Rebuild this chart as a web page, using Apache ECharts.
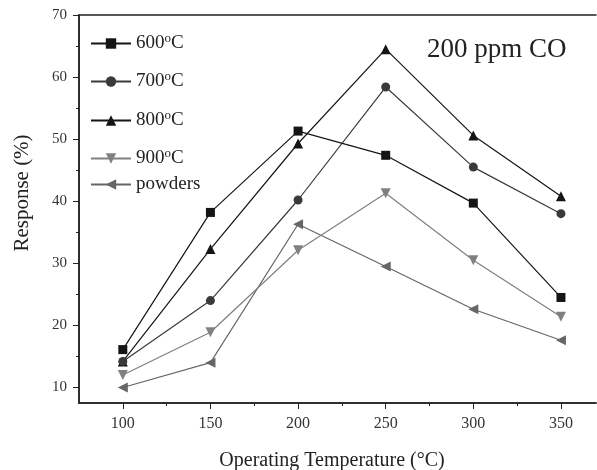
<!DOCTYPE html>
<html><head><meta charset="utf-8">
<script src="https://cdn.jsdelivr.net/npm/echarts@6/dist/echarts.min.js"></script>
<style>html,body{margin:0;padding:0;background:#fff}#c{width:597px;height:470px}</style>
</head><body><div id="c"></div>
<script>
const temps = [100, 150, 200, 250, 300, 350];
const s600 = [16.1, 38.2, 51.3, 47.4, 39.7, 24.5];
const s700 = [14.2, 24.0, 40.2, 58.4, 45.5, 38.0];
const s800 = [14.2, 32.3, 49.3, 64.5, 50.6, 40.8];
const s900 = [12.0, 18.9, 32.1, 41.3, 30.5, 21.4];
const powders = [10.0, 14.0, 36.3, 29.5, 22.6, 17.6];
const seriesNames = ['600oC', '700oC', '800oC', '900oC', 'powders'];
const yTicks = [10, 20, 30, 40, 50, 60, 70];
const yMinor = [15, 25, 35, 45, 55, 65];
const xTicks = [100, 150, 200, 250, 300, 350];
const xMinor = [125, 175, 225, 275, 325];

const F = 'Liberation Serif';
const pair = (arr) => temps.map((t, i) => [t, arr[i]]);
const vals = [s600, s700, s800, s900, powders];
const colors = ['#151515', '#3a3a3a', '#151515', '#808080', '#666666'];
const symbols = ['rect', 'circle', 'triangle', 'triangle', 'triangle'];
const rot = [0, 0, 0, 180, 90];
const sizes = [9, 9, 10, 10, 10];

const series = seriesNames.map((n, i) => ({
  name: n, type: 'line', data: pair(vals[i]), symbol: symbols[i], symbolSize: sizes[i],
  symbolRotate: rot[i], showSymbol: true,
  lineStyle: {color: colors[i], width: 1.2},
  itemStyle: {color: colors[i]}, z: 5 - i
}));

const legendTops = [27, 65, 104, 142, 170];
const legends = seriesNames.map((n, i) => ({
  data: [n], left: 85, top: legendTops[i], itemWidth: 40, itemHeight: 13, itemGap: 5,
  textStyle: {fontFamily: F, fontSize: 19, color: '#222',
    rich: {n: {fontFamily: F, fontSize: 19, color: '#222'}, s: {fontFamily: F, fontSize: 13, color: '#222', verticalAlign: 'top', padding:[0,0,10,0]}}},
  formatter: (name) => name === 'powders' ? '{n|powders}' : '{n|' + name.slice(0, 3) + '}{s|o}{n|C}'
}));

const axisCommon = {
  axisLine: {show: true, lineStyle: {color: '#222', width: 1.5}},
  splitLine: {show: false}
};

const chart = echarts.init(document.getElementById('c'));
chart.setOption({
  backgroundColor: '#fff',
  animation: false,
  grid: {left: 79, right: 1, top: 15, bottom: 67},
  legend: legends,
  xAxis: [
    Object.assign({type: 'value', min: 75, max: 370, position: 'bottom',
      axisTick: {show: true, customValues: xTicks, length: 6, lineStyle: {color: '#222'}},
      axisLabel: {customValues: xTicks, fontFamily: F, fontSize: 16, color: '#333', margin: 13}}, axisCommon),
    Object.assign({type: 'value', min: 75, max: 370, position: 'bottom',
      axisTick: {show: true, customValues: xMinor, length: 3, lineStyle: {color: '#222'}},
      axisLabel: {show: false}}, axisCommon),
    Object.assign({type: 'value', min: 75, max: 370, position: 'top',
      axisTick: {show: false}, axisLabel: {show: false}}, axisCommon)
  ],
  yAxis: [
    Object.assign({type: 'value', min: 7.5, max: 70,
      axisTick: {show: true, customValues: yTicks, length: 6, lineStyle: {color: '#222'}},
      axisLabel: {customValues: yTicks, fontFamily: F, fontSize: 15, color: '#333', margin: 12}}, axisCommon),
    Object.assign({type: 'value', min: 7.5, max: 70, position: 'left',
      axisTick: {show: true, customValues: yMinor, length: 3, lineStyle: {color: '#222'}},
      axisLabel: {show: false}}, axisCommon)
  ],
  graphic: [
    {type: 'text', left: 427, top: 36,
      style: {text: '200 ppm CO', fontFamily: F, fontSize: 27, fill: '#222'}},
    {type: 'text', x: 22, y: 193, rotation: Math.PI / 2,
      style: {text: 'Response (%)', fontFamily: F, fontSize: 21, fill: '#222', align: 'center', verticalAlign: 'middle'}},
    {type: 'text', x: 332, y: 461,
      style: {text: 'Operating Temperature (°C)', fontFamily: F, fontSize: 20, fill: '#222', align: 'center', verticalAlign: 'middle'}}
  ],
  series: series
});
</script></body></html>
